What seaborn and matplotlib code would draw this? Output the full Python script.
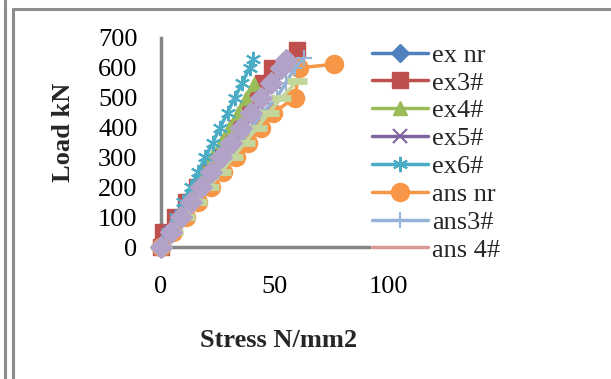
import numpy as np
import pandas as pd
import matplotlib
matplotlib.use("Agg")
import matplotlib.pyplot as plt
from matplotlib.lines import Line2D
import seaborn as sns

# load (kN) and stress (N/mm2)
names = ["ex nr", "ex3#", "ex4#", "ex5#", "ex6#",
         "ans nr", "ans3#", "ans 4#", "ans5#", "ans6#"]

loads_ex_nr = [0, 50, 100, 150, 200, 250, 300, 350, 400, 450, 500, 550, 600]
stress_ex_nr = [0, 4.4, 8.8, 13, 17.5, 22, 26.5, 31, 35, 39.5, 44, 48.5, 53]

loads_ex3 = [0, 50, 100, 150, 200, 250, 300, 350, 400, 450, 500, 550, 600, 660]
stress_ex3 = [0, 1, 6, 11, 16, 21, 26, 30, 34, 39, 42, 45, 49, 60]

loads_ex4 = [0, 50, 100, 150, 200, 250, 300, 350, 400, 450, 500, 545]
stress_ex4 = [0, 3.8, 7.5, 11.3, 15, 18.8, 22.5, 26.3, 30, 33.8, 37.5, 41]

loads_ex5 = [0, 50, 100, 150, 200, 250, 300, 350, 400, 450, 500, 550]
stress_ex5 = [0, 4.5, 9, 13.5, 18, 22.5, 27, 31.5, 36, 40.5, 45, 50]

loads_ex6 = [0, 50, 100, 150, 200, 250, 300, 350, 400, 450, 500, 550, 600, 630]
stress_ex6 = [0, 3.3, 6.5, 9.8, 13, 16.3, 19.5, 22.8, 26, 29.3, 32.5, 35.8, 39, 40.5]

loads_ans_nr = [0, 50, 100, 150, 200, 250, 300, 350, 400, 450, 500, 600, 612]
stress_ans_nr = [0, 5.5, 11, 16.5, 22, 27.5, 33, 38.5, 44, 49.5, 59, 61, 76]

loads_ans3 = [0, 50, 100, 150, 200, 250, 300, 350, 400, 450, 500, 550, 600, 633]
stress_ans3 = [0, 5, 10, 15, 20, 25, 30, 35, 40, 45, 51, 55, 59, 63]

loads_ans4 = [0, 50, 100, 150, 200, 250, 300, 350, 400, 450, 500, 545]
stress_ans4 = [0, 4.5, 9, 13.5, 18, 22.5, 27, 31.5, 36, 40, 44.5, 48.5]

loads_ans5 = [0, 50, 100, 150, 200, 250, 300, 350, 400, 450, 500, 555]
stress_ans5 = [0, 5.3, 10.6, 15.9, 21.2, 26.5, 31.8, 37.1, 42.4, 47.7, 53, 60]

loads_ans6 = [0, 50, 100, 150, 200, 250, 300, 350, 400, 450, 500, 550, 600, 625]
stress_ans6 = [0, 4.4, 8.8, 13.2, 17.6, 22, 26.4, 30.8, 35.2, 39.6, 44, 48.4, 52.8, 55]

loads = [loads_ex_nr, loads_ex3, loads_ex4, loads_ex5, loads_ex6,
         loads_ans_nr, loads_ans3, loads_ans4, loads_ans5, loads_ans6]
stresses = [stress_ex_nr, stress_ex3, stress_ex4, stress_ex5, stress_ex6,
            stress_ans_nr, stress_ans3, stress_ans4, stress_ans5, stress_ans6]

colors = ["#4F81BD", "#C0504D", "#9BBB59", "#8064A2", "#4BACC6",
          "#F79646", "#95B3D7", "#D99694", "#C3D69B", "#B3A2C7"]
markers = ["D", "s", "^", "x", (6, 2, 0), "o", "+", "_", "_", "D"]
msizes = [9, 11, 10, 10, 11, 13, 12, 9, 15, 11]
mews = [1, 1, 1, 1.5, 1.5, 1, 1.5, 2, 5, 1]

FS = 19


def main():
    sns.set_style("white")
    plt.rcParams["font.family"] = ["Liberation Serif", "DejaVu Serif"]

    fig = plt.figure(figsize=(6.11, 3.79), dpi=100)
    ax = fig.add_axes([161 / 611, 1 - 247 / 379, 227 / 611, 209 / 379])

    for i, name in enumerate(names):
        df = pd.DataFrame({"Stress": stresses[i], "Load": loads[i]})
        sns.lineplot(data=df, x="Stress", y="Load", ax=ax, color=colors[i],
                     linewidth=2.5, marker=markers[i], markersize=msizes[i],
                     markeredgecolor=colors[i], markeredgewidth=mews[i],
                     estimator=None, sort=False, label=name, clip_on=False)

    ax.set_xlim(0, 100)
    ax.set_ylim(0, 700)
    ax.set_xticks([0, 50, 100])
    ax.set_yticks(range(0, 701, 100))
    ax.tick_params(axis="both", length=0, labelsize=FS, colors="black")
    ax.tick_params(axis="y", pad=17)
    ax.tick_params(axis="x", pad=21)
    for s in ["top", "right"]:
        ax.spines[s].set_visible(False)
    for s in ["left", "bottom"]:
        ax.spines[s].set_color("#868686")
        ax.spines[s].set_linewidth(2.5)
        ax.spines[s].set_zorder(0)

    ax.set_xlabel("Stress N/mm2", fontsize=FS, fontweight="bold")
    ax.set_ylabel("Load kN", fontsize=FS, fontweight="bold")
    ax.xaxis.set_label_coords(0.52, -0.392)
    ax.yaxis.set_label_coords(-0.38, 0.55)

    handles, labels = ax.get_legend_handles_labels()
    ax.legend(handles[:8], labels[:8], loc="upper left",
              bbox_to_anchor=(371 / 611, 1 - 42 / 379),
              bbox_transform=fig.transFigure, fontsize=FS, frameon=True,
              facecolor="white", edgecolor="none", framealpha=1,
              handlelength=2.1, handletextpad=0.15, labelspacing=0.165,
              borderpad=0.05, borderaxespad=0, fancybox=False)

    # outer frame lines of the embedded chart
    fig.add_artist(Line2D([4.5 / 611, 4.5 / 611], [0, 1], color="#8c8c8c", lw=2.2))
    fig.add_artist(Line2D([12.5 / 611, 12.5 / 611], [0, 1 - 9 / 379], color="#8c8c8c", lw=2.2))
    fig.add_artist(Line2D([12.5 / 611, 1], [1 - 9 / 379, 1 - 9 / 379], color="#8c8c8c", lw=2.2))

    fig.savefig("out.png", dpi=100)


if __name__ == "__main__":
    main()
